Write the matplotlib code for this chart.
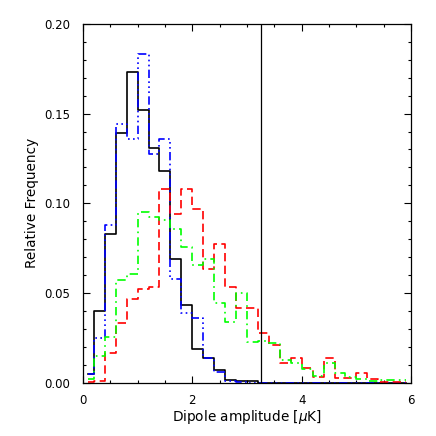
import matplotlib

matplotlib.use("Agg")
import matplotlib.pyplot as plt
from matplotlib.ticker import FormatStrFormatter, MultipleLocator

# bin centres (bin width 0.2 muK)
centers = [0.1 + 0.2 * i for i in range(30)]

black_vals = [0.005, 0.040, 0.083, 0.139, 0.173, 0.152, 0.131, 0.118, 0.069, 0.043,
              0.0185, 0.0135, 0.007, 0.0015, 0.001, 0.001, 0, 0, 0, 0,
              0, 0, 0, 0, 0, 0, 0, 0, 0, 0]
blue_vals = [0.005, 0.025, 0.088, 0.144, 0.136, 0.183, 0.1275, 0.136, 0.058, 0.0386,
             0.036, 0.0135, 0.006, 0.001, 0.0003, 0, 0, 0, 0, 0,
             0, 0, 0, 0, 0, 0, 0, 0, 0, 0]
red_vals = [0.0005, 0.001, 0.0166, 0.033, 0.0466, 0.052, 0.053, 0.108, 0.094, 0.108,
            0.0966, 0.0635, 0.0775, 0.053, 0.0414, 0.0414, 0.0275, 0.021, 0.0107, 0.0135,
            0.0079, 0.0029, 0.0135, 0.0023, 0.0023, 0.0055, 0.0018, 0.0005, 0.0005, 0.0005]
green_vals = [0.002, 0.015, 0.0256, 0.057, 0.0605, 0.0953, 0.0925, 0.0905, 0.0856, 0.0758,
              0.0656, 0.0687, 0.0442, 0.034, 0.0498, 0.0228, 0.023, 0.022, 0.0126, 0.0107,
              0.0074, 0.0036, 0.0107, 0.0051, 0.0029, 0.0018, 0.0008, 0.0012, 0.0012, 0.0012]

observed = 3.25

fig = plt.figure(figsize=(4.36, 4.36), dpi=100)
ax = fig.add_axes([0.19, 0.1227, 0.753, 0.8223])

lw = 1.2
ax.step(centers, black_vals, where="mid", color="black", lw=lw)
ax.step(centers, blue_vals, where="mid", color="#0000ff", lw=lw,
        linestyle=(0, (5, 2, 1, 2, 1, 2, 1, 2)))
ax.step(centers, red_vals, where="mid", color="#ff0000", lw=lw,
        linestyle=(0, (5, 2.6)))
ax.step(centers, green_vals, where="mid", color="#00ff00", lw=lw,
        linestyle=(0, (5, 2.5, 1, 2.5)))
ax.axvline(observed, color="black", lw=0.9)

ax.set_xlim(0, 6)
ax.set_ylim(0, 0.2)
ax.xaxis.set_major_locator(MultipleLocator(2))
ax.xaxis.set_minor_locator(MultipleLocator(0.5))
ax.yaxis.set_major_locator(MultipleLocator(0.05))
ax.yaxis.set_minor_locator(MultipleLocator(0.01))
ax.yaxis.set_major_formatter(FormatStrFormatter("%.2f"))
ax.tick_params(which="both", direction="in", top=True, right=True, labelsize=8.5, width=0.8)
ax.tick_params(which="major", length=5)
ax.tick_params(which="minor", length=2.5)
ax.tick_params(axis="x", pad=8)
ax.tick_params(axis="y", pad=9)
for s in ax.spines.values():
    s.set_linewidth(0.9)

ax.set_xlabel(r"Dipole amplitude [$\mu$K]", fontsize=9.8, labelpad=1)
ax.set_ylabel("Relative Frequency", fontsize=9.8, labelpad=4)

fig.savefig("out.png", dpi=100)
